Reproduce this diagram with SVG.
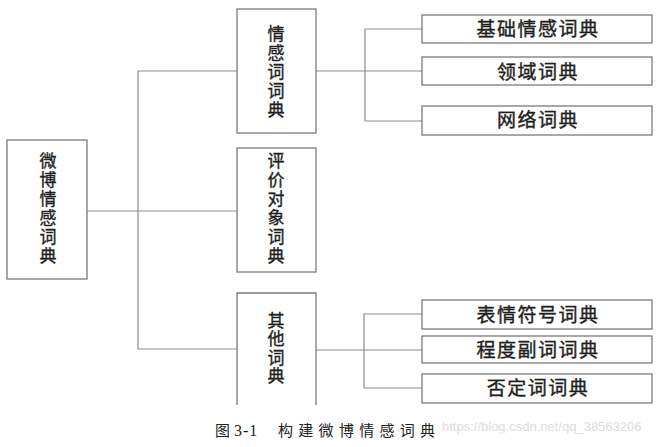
<svg xmlns="http://www.w3.org/2000/svg" width="658" height="447" viewBox="0 0 658 447">
<style>
.box{fill:#fff;stroke:#7a7a7a;stroke-width:1.3}
.ln{fill:none;stroke:#8c8c8c;stroke-width:1.2}
.v{font-family:"Noto Sans CJK SC","Noto Sans",sans-serif;font-size:17px;fill:#1e1e1e;stroke:#1e1e1e;stroke-width:0.35;writing-mode:vertical-rl;letter-spacing:2px}
.h{font-family:"Noto Sans CJK SC","Noto Sans",sans-serif;font-size:19px;fill:#1e1e1e;stroke:#1e1e1e;stroke-width:0.4;text-anchor:middle;letter-spacing:1.5px}
.cap{font-family:"Liberation Serif","Noto Sans CJK SC",serif;font-size:15px;fill:#222}
.wm{font-family:"Liberation Sans",sans-serif;font-size:13px;fill:#dcdcdc}
</style>
<rect width="658" height="447" fill="#fff"/>
<g id="connectors">
<path class="ln" d="M87 211H237"/>
<path class="ln" d="M237 71H138V349H237"/>
<path class="ln" d="M316 71H422"/>
<path class="ln" d="M422 29H365V121H422"/>
<path class="ln" d="M316 350H422"/>
<path class="ln" d="M422 314H364V388H422"/>
</g>
<g id="root">
<rect class="box" x="7" y="140" width="80" height="139"/>
<text class="v" x="48" y="152">微博情感词典</text>
</g>
<g id="emotion">
<rect class="box" x="237" y="9" width="79" height="124"/>
<text class="v" x="276" y="25.5">情感词词典</text>
</g>
<g id="target">
<rect class="box" x="237" y="148" width="79" height="124"/>
<text class="v" x="276" y="152">评价对象词典</text>
</g>
<g id="other">
<path class="box" d="M237 405V293H316V405"/>
<text class="v" x="276" y="312" style="letter-spacing:1.5px">其他词典</text>
</g>
<g id="basic">
<rect class="box" x="422" y="15" width="230" height="28"/>
<text class="h" x="538" y="36">基础情感词典</text>
</g>
<g id="domain">
<rect class="box" x="422" y="57" width="230" height="28"/>
<text class="h" x="538" y="79">领域词典</text>
</g>
<g id="network">
<rect class="box" x="422" y="106" width="230" height="29"/>
<text class="h" x="538" y="127">网络词典</text>
</g>
<g id="emoticon">
<rect class="box" x="422" y="300" width="230" height="29"/>
<text class="h" x="538" y="322">表情符号词典</text>
</g>
<g id="degree">
<rect class="box" x="422" y="336" width="230" height="27"/>
<text class="h" x="538" y="357">程度副词词典</text>
</g>
<g id="negation">
<rect class="box" x="422" y="374" width="230" height="29"/>
<text class="h" x="538" y="395">否定词词典</text>
</g>
<text class="wm" x="442" y="431">https://blog.csdn.net/qq_38563206</text>
<text class="cap" y="436"><tspan x="215">图</tspan><tspan x="234" font-size="16" letter-spacing="1">3-1</tspan><tspan x="278" letter-spacing="5.3">构建微博情感词典</tspan></text>
</svg>
